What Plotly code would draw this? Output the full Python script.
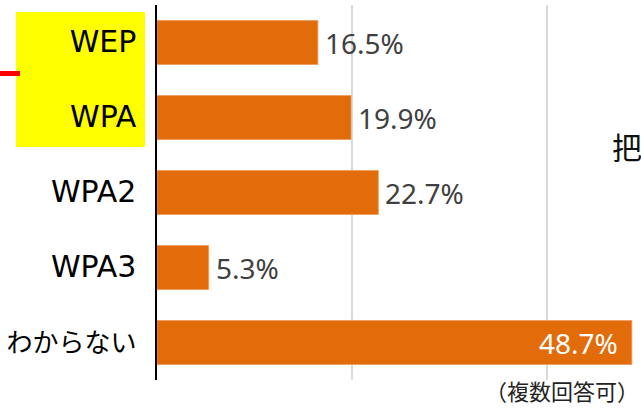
import plotly.graph_objects as go

categories = ["WEP", "WPA", "WPA2", "WPA3", "わからない"]
values = [16.5, 19.9, 22.7, 5.3, 48.7]
value_labels = [f"{v:.1f}%" for v in values]
note_text = "（複数回答可）"
side_text = "把"

W, H = 641, 408
L, R, T, B = 157, 0, 5, 28
XMAX = 49.64
BAR = "#E36C0A"
FONT = "Noto Sans CJK JP, Noto Sans, sans-serif"
LATIN = "DejaVu Sans"
NUM = "Noto Sans"

fig = go.Figure()
fig.add_trace(go.Bar(
    x=values, y=categories, orientation="h",
    marker=dict(color=BAR, line=dict(color="#EE9B5C", width=0.8)),
    hoverinfo="skip",
))

pw = W - L - R
ph = H - T - B
def px(x):
    return (x - L) / pw
def py(y):
    return (H - B - y) / ph

def tick_label(c):
    if c.isascii():
        return f"<span style='font-family:{LATIN};font-size:30px'>{c}</span>"
    return f"<span style='font-size:26px'>{c}</span>"

annotations = []
for c, v, lab in zip(categories, values, value_labels):
    inside = v > XMAX * 0.9
    annotations.append(dict(
        x=v, y=c, xref="x", yref="y", text=lab, showarrow=False,
        xanchor="right" if inside else "left",
        xshift=-12 if inside else 5,
        yanchor="middle",
        font=dict(family=NUM, size=28, color="#FFFFFF" if inside else "#404040"),
    ))
annotations.append(dict(
    x=px(W), y=py(H), xref="paper", yref="paper", text=note_text,
    showarrow=False, xanchor="right", yanchor="bottom",
    font=dict(family=FONT, size=22, color="#222222"),
))
annotations.append(dict(
    x=px(610), y=py(146), xref="paper", yref="paper", text=side_text,
    showarrow=False, xanchor="left", yanchor="middle",
    font=dict(family=FONT, size=30, color="#111111"),
))

shapes = [
    dict(type="rect", xref="paper", yref="paper", layer="below",
         x0=px(16), x1=px(145), y0=py(147), y1=py(12),
         fillcolor="#FFFF00", line=dict(width=0)),
    dict(type="line", xref="paper", yref="paper", layer="below",
         x0=px(0), x1=px(20), y0=py(73.5), y1=py(73.5),
         line=dict(color="#FF0000", width=5)),
]

fig.update_layout(
    width=W, height=H,
    margin=dict(l=L, r=R, t=T, b=B, pad=0, autoexpand=False),
    paper_bgcolor="white", plot_bgcolor="white",
    showlegend=False, bargap=0.413,
    annotations=annotations, shapes=shapes,
    xaxis=dict(range=[0, XMAX], dtick=20, showticklabels=False,
               showgrid=True, gridcolor="#D9D9D9", gridwidth=2,
               zeroline=False, showline=False, fixedrange=True,
               automargin=False),
    yaxis=dict(autorange="reversed", showline=True, linecolor="#000000",
               linewidth=2, showgrid=False, ticks="",
               tickmode="array", tickvals=categories,
               ticktext=[tick_label(c) for c in categories],
               ticklabelstandoff=13, automargin=False,
               tickfont=dict(family=FONT, size=28, color="#000000"),
               fixedrange=True),
)

fig.write_html("out.html", config={"displayModeBar": False},
               post_script="document.body.style.margin='0';document.body.style.overflow='hidden';")
